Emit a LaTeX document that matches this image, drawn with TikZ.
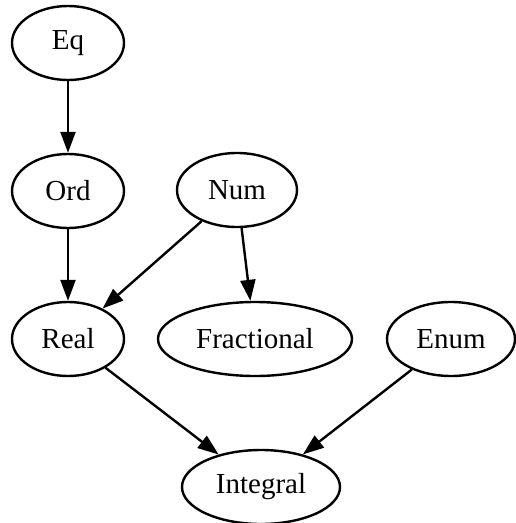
\documentclass[tikz,border=0pt]{standalone}
\usepackage{fontspec}
\setmainfont{Liberation Serif}
\usetikzlibrary{shapes.geometric,arrows.meta}
\begin{document}
\begin{tikzpicture}[x=1pt,y=-1pt,
  gnode/.style={draw, ellipse, line width=2.4pt, inner sep=0pt, minimum height=74pt,
    font=\fontsize{29}{34}\selectfont},
  edge/.style={line width=2.4pt, -{Triangle[length=21pt,width=15pt]}}]
\useasboundingbox (0,0) rectangle (515,523);
\node[gnode, minimum width=112pt] (Eq) at (68,43) {Eq};
\node[gnode, minimum width=112pt] (Ord) at (68,191) {Ord};
\node[gnode, minimum width=120pt] (Num) at (237,190) {Num};
\node[gnode, minimum width=112pt] (Real) at (68,339) {Real};
\node[gnode, minimum width=194pt] (Fractional) at (255,339) {Fractional};
\node[gnode, minimum width=128pt] (Enum) at (451,339) {Enum};
\node[gnode, minimum width=158pt] (Integral) at (261,487) {Integral};
\draw[edge] (Eq) -- (Ord);
\draw[edge] (Ord) -- (Real);
\draw[edge] (Num) -- (Real);
\draw[edge] (Num) -- (Fractional);
\draw[edge] (Real) -- (Integral);
\draw[edge] (Enum) -- (Integral);
\end{tikzpicture}
\end{document}
